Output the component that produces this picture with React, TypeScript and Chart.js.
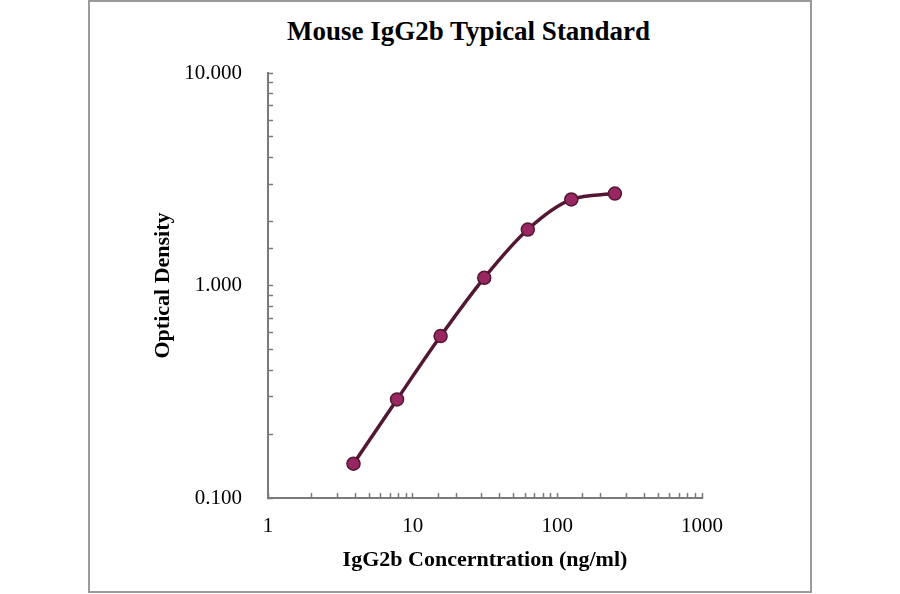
import { useEffect, useRef } from 'react'
import { Chart, ChartConfiguration, registerables } from 'chart.js'

Chart.register(...registerables)

// Standard curve points
const concentrations = [3.9, 7.8, 15.6, 31.25, 62.5, 125, 250]
const opticalDensity = [0.145, 0.291, 0.578, 1.087, 1.834, 2.54, 2.707]

// Labelled ticks (decades only)
const xTickLabels = [1, 10, 100, 1000]
const yTickLabels = [0.1, 1, 10]

const chartTitle = 'Mouse IgG2b Typical Standard'
const xAxisTitle = 'IgG2b Concerntration (ng/ml)'
const yAxisTitle = 'Optical Density'

const SERIF = "'Liberation Serif', 'Times New Roman', serif"

const isLabelled = (v: number, list: number[]) =>
  list.some(t => Math.abs(v - t) / t < 1e-6)

const StandardCurveChart = () => {
  const canvasRef = useRef<HTMLCanvasElement>(null)
  const chartRef = useRef<Chart | null>(null)

  useEffect(() => {
    const ctx = canvasRef.current?.getContext('2d')
    if (!ctx) return

    const config: ChartConfiguration = {
      type: 'line',
      data: {
        datasets: [
          {
            data: concentrations.map((x, i) => ({ x, y: opticalDensity[i] })),
            borderColor: '#531733',
            borderWidth: 3.5,
            pointBackgroundColor: '#982761',
            pointBorderColor: '#531733',
            pointBorderWidth: 1.5,
            pointRadius: 6.5,
            cubicInterpolationMode: 'monotone',
            fill: false
          }
        ]
      },
      options: {
        animation: false,
        responsive: true,
        maintainAspectRatio: false,
        layout: {
          padding: { top: 73, left: 140, right: 198, bottom: 16 }
        },
        plugins: {
          legend: { display: false },
          title: { display: false },
          tooltip: { enabled: false }
        },
        scales: {
          x: {
            type: 'logarithmic',
            position: 'bottom',
            min: 1,
            max: 1000,
            afterFit: (scale: any) => {
              scale.height = 80
              scale.paddingLeft = 0
              scale.paddingRight = 0
            },
            grid: {
              display: true,
              drawOnChartArea: false,
              drawTicks: true,
              tickLength: -5,
              tickColor: '#7a7a7a',
              tickWidth: 1.5
            },
            border: { display: true, color: '#7a7a7a', width: 2 },
            ticks: {
              autoSkip: false,
              maxRotation: 0,
              minRotation: 0,
              padding: 21,
              color: '#000',
              font: { family: SERIF, size: 21 },
              callback: (value: any) =>
                isLabelled(Number(value), xTickLabels) ? String(Number(value)) : ''
            },
            title: {
              display: true,
              text: xAxisTitle,
              color: '#000',
              font: { family: SERIF, size: 22, weight: 'bold' },
              padding: { top: 0, bottom: 4 }
            }
          },
          y: {
            type: 'logarithmic',
            position: 'left',
            min: 0.1,
            max: 10,
            afterFit: (scale: any) => {
              scale.width = 128
              scale.paddingTop = 0
              scale.paddingBottom = 0
            },
            grid: {
              display: true,
              drawOnChartArea: false,
              drawTicks: true,
              tickLength: -5,
              tickColor: '#7a7a7a',
              tickWidth: 1.5
            },
            border: { display: true, color: '#7a7a7a', width: 2 },
            ticks: {
              autoSkip: false,
              padding: 31,
              color: '#000',
              font: { family: SERIF, size: 21 },
              callback: (value: any) =>
                isLabelled(Number(value), yTickLabels) ? Number(value).toFixed(3) : ''
            },
            title: {
              display: true,
              text: yAxisTitle,
              color: '#000',
              font: { family: SERIF, size: 22, weight: 'bold' },
              padding: { top: 10, bottom: 0 }
            }
          }
        }
      }
    }

    chartRef.current = new Chart(ctx, config)

    return () => {
      if (chartRef.current) {
        chartRef.current.destroy()
        chartRef.current = null
      }
    }
  }, [])

  return (
    <div style={{ position: 'fixed', left: 0, top: 0, width: 900, height: 594, background: '#fff' }}>
      {/* outer frame */}
      <div
        style={{
          position: 'absolute',
          left: 88,
          top: 0,
          width: 724,
          height: 593,
          border: '2px solid #9a9a9a',
          boxSizing: 'border-box'
        }}
      />
      <div
        style={{
          position: 'absolute',
          left: 0,
          top: 15,
          width: 937,
          textAlign: 'center',
          fontFamily: SERIF,
          fontWeight: 'bold',
          fontSize: 27,
          lineHeight: '32px',
          color: '#000'
        }}
      >
        {chartTitle}
      </div>
      <div style={{ position: 'absolute', left: 0, top: 0, width: 900, height: 594 }}>
        <canvas ref={canvasRef} />
      </div>
    </div>
  )
}

export default function App() {
  return <StandardCurveChart />
}
